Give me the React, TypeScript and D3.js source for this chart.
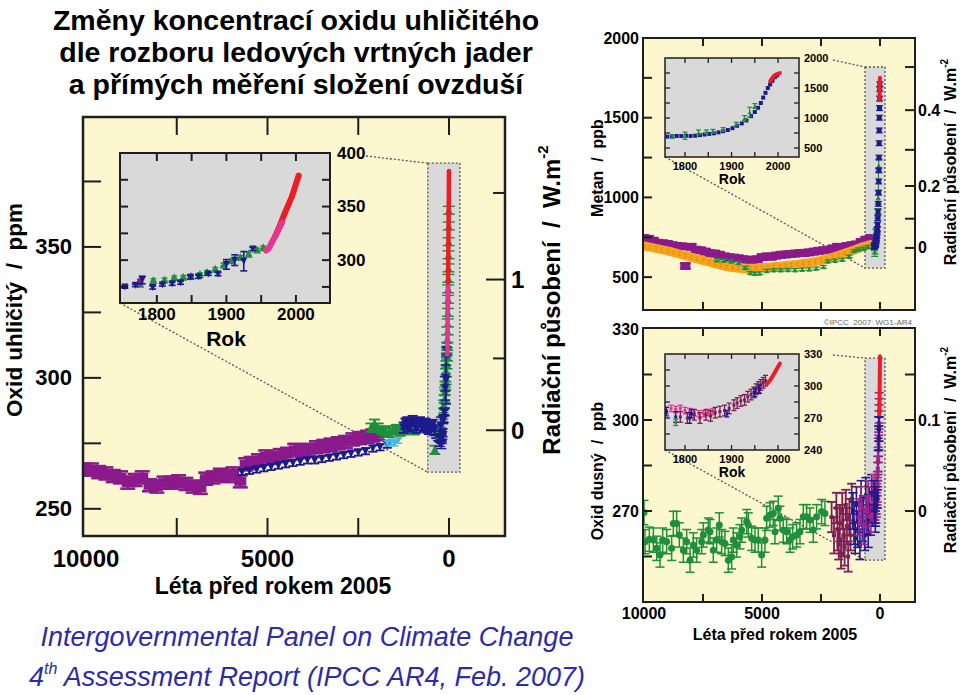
import React from "react";
import * as d3 from "d3";

// ---------------- DATA ----------------
// CO2 main panel, years before 2005 [BP, ppm, err]
const co2Epica = [
  [10050, 265], [9850, 265], [9650, 264], [9450, 263.5], [9250, 262.5], [9050, 262], [8850, 260], [8650, 261],
  [8450, 262], [8250, 259], [8050, 258.5], [7850, 260], [7650, 260], [7450, 260.5], [7250, 259.5], [7050, 258.5],
  [6850, 258], [6700, 261.5], [6500, 262], [6300, 263], [6100, 262.5], [5950, 263.5], [5750, 260.5], [5600, 267],
  [5450, 267.5], [5250, 268.5], [5050, 270], [4850, 269.5], [4650, 270.5], [4450, 271], [4250, 272.5], [4050, 272],
  [3850, 272.5], [3650, 273.5], [3450, 274], [3250, 274.5], [3050, 275], [2850, 275.5], [2650, 276.5], [2450, 277],
  [2250, 277.5], [2100, 278], [1950, 278.5],
];
const co2Navy = [
  [5700, 264], [5500, 264.5], [5300, 265], [5100, 265.5], [4900, 266], [4700, 266.5], [4500, 267], [4300, 267.5],
  [4100, 268], [3900, 268.5], [3700, 268.5], [3500, 269], [3300, 269.5], [3100, 270], [2900, 270.5], [2700, 271],
  [2500, 271.5], [2300, 272], [2100, 273], [1900, 273.5], [1700, 274.5],
];
const co2Green = [
  [2150, 281], [2050, 282.5], [1950, 281], [1850, 280], [1750, 279.5], [1650, 279], [1550, 280], [1450, 280.5],
  [1350, 279.5], [1250, 280], [1150, 281], [1050, 280.5], [950, 280], [390, 272.5],
];
const co2Cyan = [[1700, 275], [1600, 275.5], [1500, 275], [1400, 276]];
const co2LawDome = [
  [1250, 281], [1200, 282.5], [1150, 283], [1100, 281.5], [1050, 282], [1000, 283.5], [950, 282], [900, 281],
  [850, 282], [800, 283], [750, 282], [700, 281.5], [650, 282.5], [600, 281], [550, 280.5], [500, 281.5],
  [450, 282], [400, 280], [350, 279], [300, 278], [250, 277.5], [200, 277],
];
const co2SpikeGreen = [
  [4, 364], [7, 358], [10, 352], [12, 347], [15, 342], [18, 338], [22, 334], [25, 330], [30, 325], [35, 321],
  [40, 318], [45, 315], [50, 312], [55, 310], [60, 308], [70, 305], [80, 302], [90, 299], [100, 297], [110, 295],
  [120, 292], [140, 290],
];
// CO2 inset (years AD) [year, ppm, err]
const co2InsetNavy = [
  [1754, 275, 1.2], [1769, 276.5, 1.2], [1779, 281.5, 3.5], [1794, 274.5, 1.5], [1808, 277, 1.2], [1822, 278, 1.5],
  [1834, 279, 1.5], [1848, 284, 1.5], [1860, 284.5, 1.5], [1874, 287, 1.2], [1888, 287, 1.5], [1900, 296, 4.5],
  [1912, 300, 5], [1925, 299, 9], [1938, 310.5, 1.5],
];
const co2InsetGreen = [
  [1776, 278], [1795, 281.5], [1811, 282], [1825, 284], [1838, 284.5], [1849, 285.5], [1862, 287], [1872, 289],
  [1884, 292], [1896, 296], [1908, 300], [1920, 303], [1932, 306], [1944, 310], [1953, 312],
];
const co2InsetPurple = [[1776, 280, 2]];
const co2Pink = [[1957, 309], [1961, 311], [1965, 316], [1969, 321], [1973, 326], [1977, 331], [1980, 335]];
const co2Red = [
  [1970, 322], [1974, 328], [1978, 334], [1982, 341], [1986, 347], [1990, 353], [1994, 359], [1998, 367],
  [2001, 373], [2004, 379],
];

// Methane main [BP, ppb, err]
const ch4Purple = [
  [10000, 745], [9800, 740], [9600, 728], [9400, 715], [9200, 712], [9000, 708], [8800, 700], [8600, 695],
  [8400, 693], [8250, 570], [8000, 690], [7800, 672], [7600, 668], [7400, 660], [7200, 650], [7000, 648],
  [6800, 640], [6600, 630], [6400, 625], [6200, 622], [6000, 618], [5800, 612], [5600, 610], [5400, 605],
  [5200, 612], [5000, 625], [4800, 630], [4600, 628], [4400, 635], [4200, 640], [4000, 642], [3800, 645],
  [3600, 648], [3400, 650], [3200, 652], [3000, 655], [2800, 660], [2600, 665], [2400, 668], [2200, 672],
  [2000, 680], [1800, 690], [1600, 688], [1400, 695], [1200, 700], [1000, 705], [800, 720], [600, 735], [400, 745],
];
const ch4Orange = [
  [10000, 695], [9750, 688], [9500, 680], [9250, 672], [9000, 665], [8750, 655], [8500, 645], [8250, 635],
  [8000, 625], [7750, 615], [7500, 605], [7250, 595], [7000, 585], [6750, 575], [6500, 565], [6250, 560],
  [6000, 555], [5750, 553], [5500, 555], [5250, 557], [5000, 560], [4750, 562], [4500, 565], [4250, 568],
  [4000, 572], [3750, 576], [3500, 580], [3250, 585], [3000, 590], [2750, 597], [2500, 605], [2250, 615],
  [2000, 625], [1750, 637], [1500, 650], [1250, 662], [1000, 675], [850, 684], [700, 692], [550, 698], [400, 705],
];
const ch4Green = [
  [6900, 608], [6600, 605], [6300, 600], [6000, 590], [5700, 560], [5500, 527], [5300, 522], [5100, 525],
  [4800, 540], [4500, 545], [4200, 544], [3900, 546], [3600, 545], [3300, 548], [3000, 550], [2700, 555],
  [2400, 565], [2200, 600], [1900, 605], [1600, 610], [1300, 630], [1100, 665], [900, 675], [700, 680],
  [500, 690], [220, 660, 30],
];
// Methane inset (years AD)
const ch4InsetNavy = [
  [1752, 690], [1762, 690], [1772, 695], [1782, 700], [1792, 700], [1802, 705], [1812, 700], [1822, 705],
  [1832, 715], [1842, 725], [1852, 735], [1862, 745], [1872, 760], [1882, 780], [1892, 800], [1902, 830],
  [1912, 870], [1922, 910], [1932, 960], [1942, 1030], [1950, 1100], [1957, 1170], [1963, 1250], [1968, 1340],
  [1973, 1420], [1978, 1500], [1983, 1560], [1988, 1620], [1993, 1680], [1998, 1710],
];
const ch4InsetGreen = [
  [1773, 690, 25], [1800, 705, 60], [1829, 760, 40], [1846, 770, 30], [1860, 780, 30], [1882, 810, 30],
  [1910, 900, 30], [1928, 1000, 40], [1939, 1100, 80], [1950, 1200, 40],
];
const ch4Red = [[1983, 1610], [1987, 1660], [1991, 1700], [1995, 1720], [1999, 1735], [2004, 1750]];

// N2O main [BP, ppb, err]
const n2oGreen = [
  [10000, 269.5], [9957, 259.9], [9774, 260.7], [9604, 260.4], [9463, 257.7], [9322, 255.5], [9209, 260.4],
  [9039, 259.9], [8828, 257.7], [8757, 265.9], [8616, 265.9], [8503, 262.1], [8333, 257.1], [8192, 259.9],
  [8051, 253.8], [7910, 258.8], [7769, 257.1], [7557, 259.9], [7486, 262.1], [7274, 263.7], [7204, 263.2],
  [7063, 257.1], [6921, 260.4], [6808, 265.4], [6710, 259.9], [6568, 259.3], [6427, 253.8], [6286, 254.9],
  [6215, 260.4], [6074, 258.8], [5933, 261.5], [5862, 263.7], [5650, 266.5], [5580, 265.4], [5438, 261.0],
  [5298, 260.4], [5156, 260.4], [5015, 255.5], [4874, 260.4], [4803, 267.6], [4662, 268.7], [4521, 269.2],
  [4450, 263.2], [4310, 270.9], [4239, 267.6], [4098, 263.7], [3956, 263.2], [3815, 260.4], [3702, 261.5],
  [3533, 262.1], [3391, 263.2], [3250, 268.1], [3109, 268.1], [2968, 267.0], [2826, 263.7], [2685, 268.1],
  [2474, 269.8], [2332, 269.2],
];
const n2oMaroon = [
  [2050, 268, 5], [1950, 262, 6], [1850, 271, 5], [1800, 264, 7], [1750, 259, 5], [1700, 266, 6], [1650, 256, 5],
  [1600, 270, 6], [1550, 262, 7], [1500, 258, 6], [1450, 272, 5], [1400, 265, 6], [1350, 255, 5], [1300, 268, 6],
  [1250, 262, 5], [1200, 274, 5],
];
const n2oBlue = [
  [1150, 270, 6], [1100, 266, 7], [1050, 261, 5], [1000, 272, 6], [950, 264, 6], [900, 268, 5], [850, 259, 5],
  [800, 274, 6], [750, 266, 6], [700, 270, 5], [650, 262, 5], [600, 275, 6], [550, 268, 6], [500, 263, 5],
  [450, 272, 6], [400, 267, 5], [350, 276, 6], [300, 270, 5], [250, 273, 6], [200, 268, 5],
];
const n2oMagenta = [[900, 268, 6], [800, 272, 6], [700, 265, 6], [600, 270, 5], [500, 274, 6], [400, 268, 5], [300, 272, 6]];
// N2O inset (years AD)
const n2oInsetPink = [
  [1752, 276], [1760, 277], [1770, 279], [1780, 278], [1790, 279], [1800, 277], [1810, 276], [1820, 275],
  [1830, 274], [1840, 274], [1850, 275], [1860, 276],
];
const n2oInsetMaroon = [
  [1790, 271], [1805, 270], [1820, 273], [1832, 270], [1845, 273], [1855, 272], [1865, 275], [1875, 276],
  [1885, 277], [1895, 279], [1905, 282], [1912, 284], [1920, 286], [1928, 287], [1935, 290], [1942, 292],
  [1948, 294], [1953, 297], [1958, 299], [1963, 301], [1968, 303], [1973, 305],
];
const n2oInsetBlue = [[1760, 276, 4], [1780, 271, 5], [1810, 270, 5], [1814, 274, 4], [1890, 274, 3], [1950, 294, 4], [1960, 297, 4]];
const n2oInsetGreen = [[1780, 266, 3]];
const n2oRed = [[1976, 302], [1980, 304], [1984, 306], [1988, 309], [1992, 312], [1996, 315], [2000, 318], [2004, 321]];

// Tick values
const bpTicks = [7500, 5000, 2500, 0];
const co2Labels = [250, 300, 350];
const co2MinorTicks = [250, 275, 300, 325, 350, 375];
const co2ForcingTicks = [0, 0.5, 1, 1.5];
const co2ForcingLabels = [0, 1];
const co2InsetYTicks = [275, 300, 325, 350, 375];
const co2InsetYLabels = [300, 350, 400];
const insetYearTicks = [1800, 1850, 1900, 1950, 2000];
const insetYearLabels = [1800, 1900, 2000];
const ch4Labels = [500, 1000, 1500, 2000];
const ch4Ticks = [500, 750, 1000, 1250, 1500, 1750];
const ch4ForcingTicks = [0, 0.1, 0.2, 0.3, 0.4, 0.5];
const ch4ForcingLabels = [0, 0.2, 0.4];
const ch4InsetLabels = [500, 1000, 1500, 2000];
const ch4InsetTicks = [500, 750, 1000, 1250, 1500, 1750];
const n2oLabels = [270, 300, 330];
const n2oTicks = [255, 270, 285, 300, 315];
const n2oForcingTicks = [0, 0.05, 0.1, 0.15];
const n2oForcingLabels = [0, 0.1];
const n2oInsetLabels = [240, 270, 300, 330];
const n2oInsetTicks = [255, 270, 285, 300, 315];
const bpLabelsLeft = [10000, 5000, 0];

// ---------------- STYLE ----------------
const FONT = "'Liberation Sans', Arial, Helvetica, sans-serif";
const YELLOW = "#fdf7cf";
const GRAY = "#d9d9d9";
const FRAME = "#1e1e1e";
const PURPLE = "#8a1a8c";
const NAVY = "#1d1a8e";
const GREEN = "#1f8f3c";
const RED = "#ee1c24";
const PINK = "#e4358f";
const CYAN = "#44b4ea";
const ORANGE = "#f4a51c";
const MAROON = "#7c1f55";
const BLUE_TXT = "#2d2ba8";

type Shape = "square" | "triUp" | "triDown" | "circle" | "rect" | "none";

function marker(shape: Shape, x: number, y: number, s: number, color: string, w?: number) {
  if (shape === "square") return <rect x={x - s / 2} y={y - s / 2} width={s} height={s} fill={color} />;
  if (shape === "rect") return <rect x={x - (w || s) / 2} y={y - s / 2} width={w || s} height={s} fill={color} />;
  if (shape === "triUp")
    return <polygon points={`${x},${y - s / 2} ${x + s / 2},${y + s / 2} ${x - s / 2},${y + s / 2}`} fill={color} />;
  if (shape === "triDown")
    return <polygon points={`${x},${y + s / 2} ${x + s / 2},${y - s / 2} ${x - s / 2},${y - s / 2}`} fill={color} />;
  if (shape === "circle") return <circle cx={x} cy={y} r={s / 2} fill={color} />;
  return null;
}

function ErrSeries(props: {
  data: number[][]; xf: (v: number) => number; y: (v: number) => number; color: string; shape: Shape;
  size: number; cap: number; err: number; sw?: number; w?: number;
}) {
  const { data, xf, y, color, shape, size, cap, err, sw = 1.4, w } = props;
  return (
    <g>
      {data.map((d, i) => {
        const cx = xf(d[0]);
        const cy = y(d[1]);
        const e = d[2] !== undefined ? d[2] : err;
        const yt = y(d[1] + e);
        const yb = y(d[1] - e);
        return (
          <g key={i}>
            {e > 0 && (
              <g stroke={color} strokeWidth={sw}>
                <line x1={cx} x2={cx} y1={yt} y2={yb} />
                <line x1={cx - cap / 2} x2={cx + cap / 2} y1={yt} y2={yt} />
                <line x1={cx - cap / 2} x2={cx + cap / 2} y1={yb} y2={yb} />
              </g>
            )}
            {marker(shape, cx, cy, size, color, w)}
          </g>
        );
      })}
    </g>
  );
}

function Band(props: { data: number[][]; xf: (v: number) => number; y: (v: number) => number; color: string; width: number }) {
  const line = d3.line<number[]>().x((d) => props.xf(d[0])).y((d) => props.y(d[1]));
  return <path d={line(props.data) || ""} fill="none" stroke={props.color} strokeWidth={props.width} strokeLinejoin="round" strokeLinecap="round" />;
}

const bp = (s: d3.ScaleLinear<number, number>) => (v: number) => s(v);
const ad = (s: d3.ScaleLinear<number, number>) => (v: number) => s(2005 - v);

function Txt(p: { x: number; y: number; size: number; anchor?: string; bold?: boolean; children: any; fill?: string; italic?: boolean; rotate?: boolean }) {
  return (
    <text
      x={p.rotate ? 0 : p.x}
      y={p.rotate ? 0 : p.y}
      transform={p.rotate ? `translate(${p.x},${p.y}) rotate(-90)` : undefined}
      fontFamily={FONT}
      fontSize={p.size}
      fontWeight={p.bold === false ? "normal" : "bold"}
      fontStyle={p.italic ? "italic" : "normal"}
      textAnchor={p.anchor || "middle"}
      dominantBaseline="central"
      fill={p.fill || "#000"}
      style={{ whiteSpace: "pre" }}
    >
      {p.children}
    </text>
  );
}

// ---------------- APP ----------------
export default function App() {
  // Left CO2 panel
  const L = { x0: 83, x1: 505, y0: 117, y1: 536 };
  const xC = d3.scaleLinear().domain([10000, 0]).range([86, 449]);
  const yC = d3.scaleLinear().domain([240, 400]).range([535, 116]);
  const ppmF = (F: number) => 280 * Math.exp(F / 5.35);
  const CI = { x0: 120, x1: 330, y0: 153, y1: 303 };
  const xCI = d3.scaleLinear().domain([1747, 2049]).range([CI.x0, CI.x1]);
  const yCI = d3.scaleLinear().domain([260, 400]).range([CI.y1, CI.y0]);
  const CZ = { x0: xC(585), x1: xC(-300), y0: yC(382), y1: yC(264) };

  // Methane panel
  const M = { x0: 643, x1: 915, y0: 38, y1: 310 };
  const xM = d3.scaleLinear().domain([10000, 0]).range([644, 880]);
  const yM = d3.scaleLinear().domain([300, 2000]).range([309, 38]);
  const ppbF = (F: number) => Math.pow(Math.sqrt(683) + F / 0.0303, 2);
  const MI = { x0: 665, x1: 799, y0: 58, y1: 157 };
  const xMI = d3.scaleLinear().domain([1757, 2045]).range([MI.x0, MI.x1]);
  const yMI = d3.scaleLinear().domain([350, 2000]).range([MI.y1, MI.y0]);
  const MZ = { x0: xM(636), x1: xM(-212), y0: yM(1818), y1: yM(557) };

  // N2O panel
  const N = { x0: 643, x1: 915, y0: 328, y1: 602 };
  const xN = d3.scaleLinear().domain([10000, 0]).range([644, 880]);
  const yN = d3.scaleLinear().domain([240, 330]).range([602, 329]);
  const n2oF = (F: number) => 270 + F * 300;
  const NI = { x0: 665, x1: 799, y0: 354, y1: 450 };
  const xNI = d3.scaleLinear().domain([1757, 2045]).range([NI.x0, NI.x1]);
  const yNI = d3.scaleLinear().domain([240, 330]).range([NI.y1, NI.y0]);
  const NZ = { x0: xN(636), x1: xN(-212), y0: yN(320.4), y1: yN(253.8) };

  const frame = (b: any, sw = 2.5) => (
    <rect x={b.x0} y={b.y0} width={b.x1 - b.x0} height={b.y1 - b.y0} fill="none" stroke={FRAME} strokeWidth={sw} />
  );
  const zoomBox = (b: any) => (
    <rect x={b.x0} y={b.y0} width={b.x1 - b.x0} height={b.y1 - b.y0} fill={GRAY} stroke="#555" strokeWidth={1.3} strokeDasharray="2,2" />
  );
  const dotted = (x1: number, y1: number, x2: number, y2: number) => (
    <line x1={x1} y1={y1} x2={x2} y2={y2} stroke="#555" strokeWidth={1.3} strokeDasharray="2,2" />
  );
  const vTicks = (xs: number[], b: any, len: number, sw = 2) => (
    <g stroke={FRAME} strokeWidth={sw}>
      {xs.map((x, i) => (
        <g key={i}>
          <line x1={x} x2={x} y1={b.y0} y2={b.y0 + len} />
          <line x1={x} x2={x} y1={b.y1} y2={b.y1 - len} />
        </g>
      ))}
    </g>
  );
  const hTicksL = (ys: number[], b: any, len: number, sw = 2) => (
    <g stroke={FRAME} strokeWidth={sw}>
      {ys.map((y, i) => <line key={i} x1={b.x0} x2={b.x0 + len} y1={y} y2={y} />)}
    </g>
  );
  const hTicksR = (ys: number[], b: any, lens: number[], sw = 2) => (
    <g stroke={FRAME} strokeWidth={sw}>
      {ys.map((y, i) => <line key={i} x1={b.x1} x2={b.x1 - lens[i]} y1={y} y2={y} />)}
    </g>
  );

  return (
    <svg width={960} height={695} style={{ position: "absolute", left: 0, top: 0, background: "#fff" }}>
      <defs>
        <clipPath id="clipL"><rect x={L.x0} y={L.y0} width={L.x1 - L.x0} height={L.y1 - L.y0} /></clipPath>
        <clipPath id="clipCI"><rect x={CI.x0} y={CI.y0} width={CI.x1 - CI.x0} height={CI.y1 - CI.y0} /></clipPath>
        <clipPath id="clipM"><rect x={M.x0} y={M.y0} width={M.x1 - M.x0} height={M.y1 - M.y0} /></clipPath>
        <clipPath id="clipMI"><rect x={MI.x0} y={MI.y0} width={MI.x1 - MI.x0} height={MI.y1 - MI.y0} /></clipPath>
        <clipPath id="clipN"><rect x={N.x0} y={N.y0} width={N.x1 - N.x0} height={N.y1 - N.y0} /></clipPath>
        <clipPath id="clipNI"><rect x={NI.x0} y={NI.y0} width={NI.x1 - NI.x0} height={NI.y1 - NI.y0} /></clipPath>
      </defs>

      {/* Title */}
      <Txt x={296} y={20} size={28.5}>Změny koncentrací oxidu uhličitého</Txt>
      <Txt x={296} y={52} size={28.5}>dle rozboru ledových vrtných jader</Txt>
      <Txt x={296} y={84} size={28.5}>a přímých měření složení ovzduší</Txt>

      {/* ===== LEFT CO2 PANEL ===== */}
      <rect x={L.x0} y={L.y0} width={L.x1 - L.x0} height={L.y1 - L.y0} fill={YELLOW} />
      {zoomBox(CZ)}
      {dotted(366, 156, CZ.x0, CZ.y0)}
      {dotted(CI.x0, CI.y1, CZ.x0, CZ.y1)}
      <g clipPath="url(#clipL)">
        <ErrSeries data={co2Epica} xf={bp(xC)} y={yC} color={PURPLE} shape="rect" size={9} w={12} cap={15} err={2.3} sw={2.6} />
        <ErrSeries data={co2Navy} xf={bp(xC)} y={yC} color={NAVY} shape="triDown" size={8} cap={9} err={1.2} sw={1.8} />
        <ErrSeries data={co2Cyan} xf={bp(xC)} y={yC} color={CYAN} shape="triDown" size={7} cap={8} err={1} />
        <ErrSeries data={co2Green} xf={bp(xC)} y={yC} color={GREEN} shape="triUp" size={10} cap={11} err={1.6} sw={1.8} />
        <ErrSeries data={co2LawDome} xf={bp(xC)} y={yC} color={NAVY} shape="triDown" size={9} cap={10} err={2} sw={1.8} />
        <ErrSeries data={co2SpikeGreen} xf={bp(xC)} y={yC} color={GREEN} shape="triUp" size={8} cap={12} err={1.5} />
        <ErrSeries data={co2InsetGreen} xf={ad(xC)} y={yC} color={GREEN} shape="triUp" size={8} cap={10} err={1.2} />
        <ErrSeries data={co2InsetNavy} xf={ad(xC)} y={yC} color={NAVY} shape="triDown" size={8} cap={10} err={1.2} />
        <Band data={co2Red} xf={ad(xC)} y={yC} color={RED} width={4.5} />
        <Band data={co2Pink} xf={ad(xC)} y={yC} color={PINK} width={4.5} />
      </g>
      {/* CO2 inset */}
      <rect x={CI.x0} y={CI.y0} width={CI.x1 - CI.x0} height={CI.y1 - CI.y0} fill={GRAY} />
      <g clipPath="url(#clipCI)">
        <ErrSeries data={co2InsetGreen} xf={xCI} y={yCI} color={GREEN} shape="triUp" size={8} cap={6} err={1.2} />
        <ErrSeries data={co2InsetPurple} xf={xCI} y={yCI} color={PURPLE} shape="square" size={6} cap={6} err={2} />
        <ErrSeries data={co2InsetNavy} xf={xCI} y={yCI} color={NAVY} shape="triDown" size={7} cap={7} err={1.2} sw={1.6} />
        <Band data={co2Red} xf={xCI} y={yCI} color={RED} width={6} />
        <Band data={co2Pink} xf={xCI} y={yCI} color={PINK} width={6} />
      </g>
      {frame(CI, 2)}
      {vTicks(insetYearTicks.map(xCI), CI, 8)}
      {hTicksL(co2InsetYTicks.map(yCI), CI, 8)}
      {hTicksR(co2InsetYTicks.map(yCI), CI, co2InsetYTicks.map(() => 8))}
      {co2InsetYLabels.map((v) => (
        <Txt key={v} x={337} y={yCI(v)} size={17} anchor="start">{String(v)}</Txt>
      ))}
      {insetYearLabels.map((v) => (
        <Txt key={v} x={xCI(v)} y={314} size={17}>{String(v)}</Txt>
      ))}
      <Txt x={226} y={338} size={21}>Rok</Txt>

      {frame(L)}
      {vTicks(bpTicks.map(xC), L, 18)}
      {hTicksL(co2MinorTicks.map(yC), L, 18)}
      {hTicksR(co2ForcingTicks.map((F) => yC(ppmF(F))), L, co2ForcingTicks.map((F) => (F % 1 === 0 ? 19 : 12)))}
      {co2Labels.map((v) => (
        <Txt key={v} x={72} y={yC(v)} size={22} anchor="end">{String(v)}</Txt>
      ))}
      {co2ForcingLabels.map((F) => (
        <Txt key={F} x={511} y={yC(ppmF(F))} size={24} anchor="start">{String(F)}</Txt>
      ))}
      {bpLabelsLeft.map((v) => (
        <Txt key={v} x={xC(v)} y={558} size={24}>{String(v)}</Txt>
      ))}
      <Txt x={273} y={586} size={23}>Léta před rokem 2005</Txt>
      <Txt x={14} y={310} size={22.5} rotate>Oxid uhličitý  /  ppm</Txt>
      <Txt x={551} y={300} size={24} rotate>
        Radiační působení  /  W.m<tspan dy={-9} fontSize={15}>-2</tspan>
      </Txt>

      {/* Footer */}
      <Txt x={307} y={637} size={27} bold={false} italic fill={BLUE_TXT}>Intergovernmental Panel on Climate Change</Txt>
      <Txt x={307} y={677} size={27} bold={false} italic fill={BLUE_TXT}>
        4<tspan dy={-9} fontSize={16}>th</tspan><tspan dy={9}> Assessment Report (IPCC AR4, Feb. 2007)</tspan>
      </Txt>

      {/* ===== METHANE PANEL ===== */}
      <rect x={M.x0} y={M.y0} width={M.x1 - M.x0} height={M.y1 - M.y0} fill={YELLOW} />
      {zoomBox(MZ)}
      {dotted(833, 60, MZ.x0, MZ.y0)}
      {dotted(MI.x0, MI.y1, MZ.x0, MZ.y1)}
      <g clipPath="url(#clipM)">
        <ErrSeries data={ch4Purple} xf={bp(xM)} y={yM} color={PURPLE} shape="rect" size={8} w={10} cap={11} err={16} sw={2} />
        <Band data={ch4Orange} xf={bp(xM)} y={yM} color={ORANGE} width={9} />
        <ErrSeries data={ch4Orange} xf={bp(xM)} y={yM} color="#e08a10" shape="none" size={2} cap={3} err={10} sw={0.8} />
        <ErrSeries data={ch4Green} xf={bp(xM)} y={yM} color={GREEN} shape="triUp" size={5} cap={7} err={8} sw={1.2} />
        <ErrSeries data={ch4InsetGreen} xf={ad(xM)} y={yM} color={GREEN} shape="triUp" size={5} cap={7} err={20} sw={1.2} />
        <ErrSeries data={ch4InsetNavy} xf={ad(xM)} y={yM} color={NAVY} shape="square" size={5} cap={7} err={15} sw={1.2} />
        <Band data={ch4Red} xf={ad(xM)} y={yM} color={RED} width={4} />
      </g>
      {/* methane inset */}
      <rect x={MI.x0} y={MI.y0} width={MI.x1 - MI.x0} height={MI.y1 - MI.y0} fill={GRAY} />
      <g clipPath="url(#clipMI)">
        <ErrSeries data={ch4InsetNavy} xf={xMI} y={yMI} color={NAVY} shape="square" size={4} cap={0} err={0} />
        <ErrSeries data={ch4InsetGreen} xf={xMI} y={yMI} color={GREEN} shape="triUp" size={4} cap={5} err={20} sw={1.2} />
        <Band data={ch4Red} xf={xMI} y={yMI} color={RED} width={4} />
      </g>
      {frame(MI, 1.5)}
      {vTicks(insetYearTicks.map(xMI), MI, 5, 1.3)}
      {hTicksL(ch4InsetTicks.map(yMI), MI, 5, 1.3)}
      {hTicksR(ch4InsetTicks.map(yMI), MI, ch4InsetTicks.map(() => 5), 1.3)}
      {ch4InsetLabels.map((v) => (
        <Txt key={v} x={804} y={yMI(v)} size={11} anchor="start">{String(v)}</Txt>
      ))}
      {insetYearLabels.map((v) => (
        <Txt key={v} x={xMI(v)} y={166} size={11}>{String(v)}</Txt>
      ))}
      <Txt x={732} y={179} size={14}>Rok</Txt>

      {frame(M, 2)}
      {vTicks(bpTicks.map(xM), M, 8)}
      {hTicksL(ch4Ticks.map(yM), M, 9)}
      {hTicksR(ch4ForcingTicks.map((F) => yM(ppbF(F))), M, ch4ForcingTicks.map(() => 10))}
      {ch4Labels.map((v) => (
        <Txt key={v} x={639} y={yM(v)} size={16} anchor="end">{String(v)}</Txt>
      ))}
      {ch4ForcingLabels.map((F) => (
        <Txt key={F} x={918} y={yM(ppbF(F))} size={16} anchor="start">{String(F)}</Txt>
      ))}
      <Txt x={597} y={168} size={16} rotate>Metan  /  ppb</Txt>
      <Txt x={950} y={162} size={16} rotate>
        Radiační působení  /  W.m<tspan dy={-6} fontSize={10}>-2</tspan>
      </Txt>
      <Txt x={912} y={322} size={8} anchor="end" bold={false} fill="#666">©IPCC  2007: WG1-AR4</Txt>

      {/* ===== N2O PANEL ===== */}
      <rect x={N.x0} y={N.y0} width={N.x1 - N.x0} height={N.y1 - N.y0} fill={YELLOW} />
      {zoomBox(NZ)}
      {dotted(833, 355, NZ.x0, NZ.y0)}
      {dotted(NI.x0, NI.y1, NZ.x0, NZ.y1)}
      <g clipPath="url(#clipN)">
        <ErrSeries data={n2oGreen} xf={bp(xN)} y={yN} color={GREEN} shape="circle" size={7} cap={9} err={4} sw={1.5} />
        <ErrSeries data={n2oMaroon} xf={bp(xN)} y={yN} color={MAROON} shape="square" size={4} cap={9} err={5} sw={1.8} />
        <ErrSeries data={n2oBlue} xf={bp(xN)} y={yN} color={NAVY} shape="square" size={4} cap={9} err={5} sw={1.6} />
        <ErrSeries data={n2oMagenta} xf={bp(xN)} y={yN} color="#a0248f" shape="square" size={4} cap={9} err={5} sw={1.6} />
        <ErrSeries data={n2oInsetPink} xf={ad(xN)} y={yN} color={PINK} shape="square" size={4} cap={8} err={3} sw={1.4} />
        <ErrSeries data={n2oInsetMaroon} xf={ad(xN)} y={yN} color="#9a2480" shape="square" size={4} cap={9} err={4} sw={1.6} />
        <ErrSeries data={n2oInsetBlue} xf={ad(xN)} y={yN} color={NAVY} shape="square" size={4} cap={9} err={4} sw={1.6} />
        <Band data={n2oRed} xf={ad(xN)} y={yN} color={RED} width={4} />
      </g>
      {/* N2O inset */}
      <rect x={NI.x0} y={NI.y0} width={NI.x1 - NI.x0} height={NI.y1 - NI.y0} fill={GRAY} />
      <g clipPath="url(#clipNI)">
        <ErrSeries data={n2oInsetPink} xf={xNI} y={yNI} color={PINK} shape="square" size={3} cap={5} err={3} sw={1.3} />
        <ErrSeries data={n2oInsetMaroon} xf={xNI} y={yNI} color={MAROON} shape="square" size={3} cap={5} err={5} sw={1.3} />
        <ErrSeries data={n2oInsetBlue} xf={xNI} y={yNI} color={NAVY} shape="square" size={3} cap={5} err={4} sw={1.3} />
        <ErrSeries data={n2oInsetGreen} xf={xNI} y={yNI} color={GREEN} shape="square" size={3} cap={5} err={3} sw={1.3} />
        <Band data={n2oRed} xf={xNI} y={yNI} color={RED} width={4} />
      </g>
      {frame(NI, 1.5)}
      {vTicks(insetYearTicks.map(xNI), NI, 5, 1.3)}
      {hTicksL(n2oInsetTicks.map(yNI), NI, 5, 1.3)}
      {hTicksR(n2oInsetTicks.map(yNI), NI, n2oInsetTicks.map(() => 5), 1.3)}
      {n2oInsetLabels.map((v) => (
        <Txt key={v} x={804} y={yNI(v)} size={11} anchor="start">{String(v)}</Txt>
      ))}
      {insetYearLabels.map((v) => (
        <Txt key={v} x={xNI(v)} y={459} size={11}>{String(v)}</Txt>
      ))}
      <Txt x={732} y={472} size={14}>Rok</Txt>

      {frame(N, 2)}
      {vTicks(bpTicks.map(xN), N, 8)}
      {hTicksL(n2oTicks.map(yN), N, 9)}
      {hTicksR(n2oForcingTicks.map((F) => yN(n2oF(F))), N, n2oForcingTicks.map(() => 10))}
      {n2oLabels.map((v) => (
        <Txt key={v} x={639} y={yN(v)} size={16} anchor="end">{String(v)}</Txt>
      ))}
      {n2oForcingLabels.map((F) => (
        <Txt key={F} x={918} y={yN(n2oF(F))} size={16} anchor="start">{String(F)}</Txt>
      ))}
      {bpLabelsLeft.map((v) => (
        <Txt key={v} x={xN(v)} y={613} size={16}>{String(v)}</Txt>
      ))}
      <Txt x={775} y={634} size={16}>Léta před rokem 2005</Txt>
      <Txt x={597} y={471} size={16} rotate>Oxid dusný  /  ppb</Txt>
      <Txt x={950} y={450} size={16} rotate>
        Radiační působení  /  W.m<tspan dy={-6} fontSize={10}>-2</tspan>
      </Txt>
    </svg>
  );
}
